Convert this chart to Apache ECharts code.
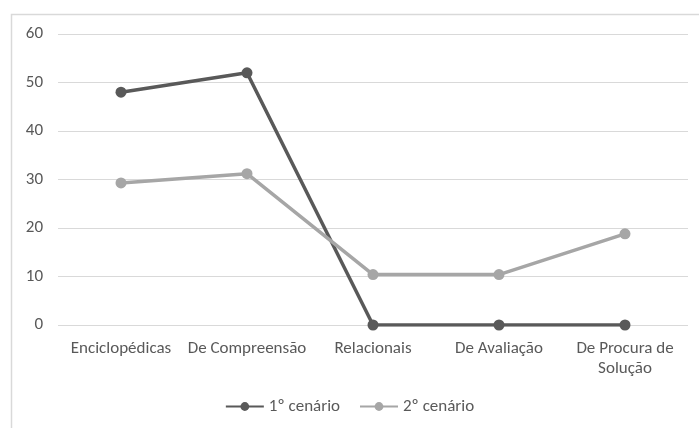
<!DOCTYPE html>
<html>
<head>
<meta charset="utf-8">
<script src="https://cdn.jsdelivr.net/npm/echarts@6/dist/echarts.min.js"></script>
<style>
  html, body { margin: 0; padding: 0; background: #fff; }
  #main { width: 699px; height: 428px; }
</style>
</head>
<body>
<div id="main"></div>
<script>
var categories = ['Enciclopédicas', 'De Compreensão', 'Relacionais', 'De Avaliação', 'De Procura de\nSolução'];
var cenario1 = [48, 52, 0, 0, 0];
var cenario2 = [29.3, 31.2, 10.4, 10.4, 18.8];
var yTicks = { min: 0, max: 60, interval: 10 };

var fontFam = "Carlito, 'Liberation Sans', 'Open Sans', sans-serif";
var myChart = echarts.init(document.getElementById('main'));
myChart.setOption({
  animation: false,
  backgroundColor: '#fff',
  textStyle: { fontFamily: fontFam },
  graphic: [{
    type: 'rect',
    shape: { x: 11.5, y: 14.5, width: 720, height: 440 },
    style: { fill: 'none', stroke: '#d9d9d9', lineWidth: 1.5 },
    silent: true
  }],
  grid: { left: 58, right: 11, top: 34, bottom: 103 },
  legend: {
    bottom: 8,
    left: 'center',
    itemWidth: 38,
    itemHeight: 11,
    itemGap: 19,
    textStyle: { color: '#595959', fontSize: 17, fontFamily: fontFam },
    data: ['1º cenário', '2º cenário']
  },
  xAxis: {
    type: 'category',
    data: categories,
    boundaryGap: true,
    axisLine: { show: false },
    axisTick: { show: false },
    axisLabel: { color: '#595959', fontSize: 17, margin: 14, lineHeight: 20, interval: 0 }
  },
  yAxis: {
    type: 'value',
    min: yTicks.min,
    max: yTicks.max,
    interval: yTicks.interval,
    axisLine: { show: false },
    axisTick: { show: false },
    axisLabel: { color: '#595959', fontSize: 17, margin: 15 },
    splitLine: { lineStyle: { color: '#d9d9d9', width: 1 } }
  },
  series: [
    {
      name: '1º cenário',
      type: 'line',
      data: cenario1,
      symbol: 'circle',
      symbolSize: 11,
      lineStyle: { color: '#595959', width: 3.5 },
      itemStyle: { color: '#595959' }
    },
    {
      name: '2º cenário',
      type: 'line',
      data: cenario2,
      symbol: 'circle',
      symbolSize: 11,
      lineStyle: { color: '#a6a6a6', width: 3.5 },
      itemStyle: { color: '#a6a6a6' }
    }
  ]
});
</script>
</body>
</html>
